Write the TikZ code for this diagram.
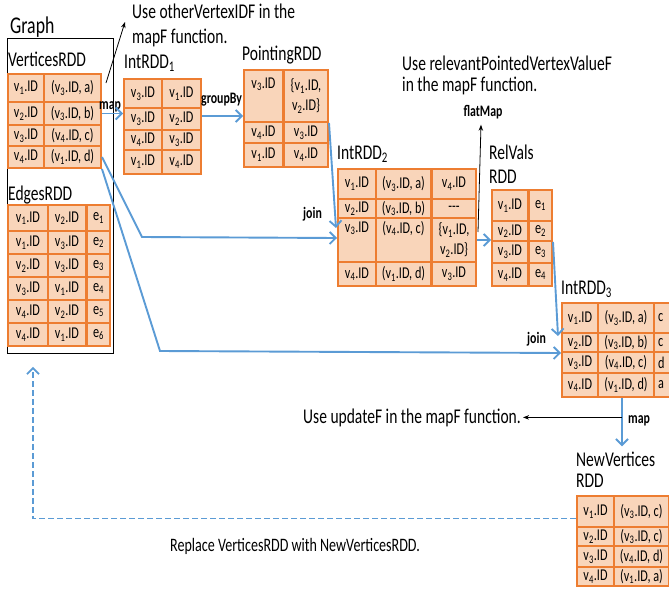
\documentclass[tikz,border=0pt]{standalone}
\usepackage{fontspec}
\setmainfont{Carlito}[FakeStretch=0.74]
\usetikzlibrary{arrows.meta}

\definecolor{rddOrange}{HTML}{ED7D31}
\definecolor{rddFill}{HTML}{F9D5BA}
\definecolor{flowBlue}{HTML}{5B9BD5}

% vertex id with subscript
\newcommand{\vid}[1]{v\textsubscript{#1}.ID}

\begin{document}
\begin{tikzpicture}
[x=1pt,y=-1pt,
 cellDecorate/.style={shape=rectangle,draw=rddOrange,fill=rddFill,line width=2pt,inner sep=0pt,anchor=north west,align=center,font=\fontsize{16.5}{20}\selectfont},
 titleDecorate/.style={inner sep=0pt,anchor=base west,align=left,font=\fontsize{21}{22}\selectfont},
 noteDecorate/.style={inner sep=0pt,anchor=base west,align=left,font=\fontsize{21}{24}\selectfont},
 opDecorate/.style={inner sep=0pt,anchor=base west,font=\bfseries\fontsize{16}{18}\selectfont},
 flowDecorate/.style={draw=flowBlue,line width=1.9pt,-{Straight Barb[length=6pt,width=12pt]}},
 noteLine/.style={draw=black,line width=0.8pt,-{Stealth[length=6pt,width=4.5pt]}}]
\useasboundingbox (0,0) rectangle (669,597);

%% the graph with its two RDDs
\node (graphBox) at (7,38) [draw,line width=0.8pt,anchor=north west,minimum width=106pt,minimum height=315pt] {};
\node (graphTitle) at (10,33) [titleDecorate,font=\fontsize{24}{26}\selectfont] {Graph};
\node (vrTitle) at (8,66) [titleDecorate] {VerticesRDD};
\foreach \r/\y/\h/\b in {1/73/28/{(\vid{3}, a)},2/101/23/{(\vid{3}, b)},3/124/21/{(\vid{4}, c)},4/145/22/{(\vid{1}, d)}}{
  \node (vr\r1) at (7,\y) [cellDecorate,minimum width=36pt,minimum height=\h pt] {\vid{\r}};
  \node (vr\r2) at (43,\y) [cellDecorate,minimum width=57pt,minimum height=\h pt] {\b};
}
\node (erTitle) at (8,200) [titleDecorate] {EdgesRDD};
\foreach \r/\y/\h/\a/\b in {1/204/26/1/2,2/230/23/1/3,3/253/23/2/3,4/276/23/3/1,5/299/23/4/2,6/322/23/4/1}{
  \node (er\r1) at (7,\y) [cellDecorate,minimum width=40pt,minimum height=\h pt] {\vid{\a}};
  \node (er\r2) at (47,\y) [cellDecorate,minimum width=38pt,minimum height=\h pt] {\vid{\b}};
  \node (er\r3) at (86,\y) [cellDecorate,minimum width=23pt,minimum height=\h pt] {e\textsubscript{\r}};
}

%% IntRDD1
\node (iaTitle) at (124,68) [titleDecorate] {IntRDD\textsubscript{1}};
\foreach \r/\y/\h/\a/\b in {1/78/29/3/1,2/107/22/3/2,3/129/20/4/3,4/149/24/1/4}{
  \node (ia\r1) at (123,\y) [cellDecorate,minimum width=38pt,minimum height=\h pt] {\vid{\a}};
  \node (ia\r2) at (161,\y) [cellDecorate,minimum width=39pt,minimum height=\h pt] {\vid{\b}};
}

%% PointingRDD
\node (prTitle) at (242,60) [titleDecorate] {PointingRDD};
\foreach \r/\y/\h/\a/\b in {1/69/52/{\vid{3}\\ \strut}/{\{\vid{1},\\ \vid{2}\}},2/121/21/{\vid{4}}/{\vid{3}},3/142/24/{\vid{1}}/{\vid{4}}}{
  \node (pr\r1) at (243,\y) [cellDecorate,minimum width=39pt,minimum height=\h pt] {\a};
  \node (pr\r2) at (283,\y) [cellDecorate,minimum width=44pt,minimum height=\h pt] {\b};
}

%% IntRDD2
\node (ibTitle) at (337,159) [titleDecorate] {IntRDD\textsubscript{2}};
\foreach \r/\y/\h/\a/\b/\c in {1/168/30/{\vid{1}}/{(\vid{3}, a)}/{\vid{4}},
    2/198/19/{\vid{2}}/{(\vid{3}, b)}/{-{}-{}-},
    3/217/44/{\vid{3}\\ \strut}/{(\vid{4}, c)\\ \strut}/{\{\vid{1},\\ \vid{2}\}},
    4/261/24/{\vid{4}}/{(\vid{1}, d)}/{\vid{3}}}{
  \node (ib\r1) at (337,\y) [cellDecorate,minimum width=38pt,minimum height=\h pt] {\a};
  \node (ib\r2) at (375,\y) [cellDecorate,minimum width=55pt,minimum height=\h pt] {\b};
  \node (ib\r3) at (431,\y) [cellDecorate,minimum width=44pt,minimum height=\h pt] {\c};
}

%% RelValsRDD
\node (rvTitle) at (489,183) [titleDecorate,font=\fontsize{21}{24}\selectfont] {RelVals\\RDD};
\foreach \r/\y/\h in {1/189/31,2/220/20,3/240/22,4/262/23}{
  \node (rv\r1) at (491,\y) [cellDecorate,minimum width=36pt,minimum height=\h pt] {\vid{\r}};
  \node (rv\r2) at (528,\y) [cellDecorate,minimum width=23pt,minimum height=\h pt] {e\textsubscript{\r}};
}

%% IntRDD3
\node (icTitle) at (561,294) [titleDecorate] {IntRDD\textsubscript{3}};
\foreach \r/\y/\h/\b/\c in {1/302/30/{(\vid{3}, a)}/c,2/332/19/{(\vid{3}, b)}/c,3/351/21/{(\vid{4}, c)}/d,4/372/24/{(\vid{1}, d)}/a}{
  \node (ic\r1) at (561,\y) [cellDecorate,minimum width=36pt,minimum height=\h pt] {\vid{\r}};
  \node (ic\r2) at (597,\y) [cellDecorate,minimum width=56pt,minimum height=\h pt] {\b};
  \node (ic\r3) at (653,\y) [cellDecorate,minimum width=25pt,minimum height=\h pt,text width=17pt,align=left] {\c};
}

%% NewVerticesRDD
\node (nvTitle) at (576,487) [titleDecorate,font=\fontsize{21}{21}\selectfont] {NewVertices\\RDD};
\foreach \r/\y/\h/\b in {1/495/31/{(\vid{3}, c)},2/526/19/{(\vid{3}, c)},3/545/21/{(\vid{4}, d)},4/566/19/{(\vid{1}, a)}}{
  \node (nv\r1) at (576,\y) [cellDecorate,minimum width=37pt,minimum height=\h pt] {\vid{\r}};
  \node (nv\r2) at (613,\y) [cellDecorate,minimum width=55pt,minimum height=\h pt] {\b};
}

%% notes and operation names
\node (noteOther) at (132,43) [noteDecorate,font=\fontsize{21}{25}\selectfont] {Use otherVertexIDF in the\\mapF function.};
\node (noteRelevant) at (402,91) [noteDecorate,font=\fontsize{21}{21}\selectfont] {Use relevantPointedVertexValueF\\in the mapF function.};
\node (noteUpdate) at (303,423) [noteDecorate] {Use updateF in the mapF function.};
\node (noteReplace) at (170,551) [noteDecorate,font=\fontsize{19}{22}\selectfont] {Replace VerticesRDD with NewVerticesRDD.};
\node (mapOpA) at (99,109) [opDecorate] {map};
\node (groupByOp) at (201,103) [opDecorate] {groupBy};
\node (joinOpA) at (303,218) [opDecorate] {join};
\node (flatMapOp) at (483,116) [opDecorate,anchor=base] {flatMap};
\node (joinOpB) at (527,343) [opDecorate] {join};
\node (mapOpB) at (628,423) [opDecorate] {map};

\coordinate (otherTail) at (106,83);
\coordinate (otherTip) at (125,22);
\coordinate (flatTail) at (478,232);
\coordinate (replaceStart) at ([yshift=-7pt]nv11.west);
\coordinate (replaceTip) at ([xshift=26pt,yshift=-13pt]graphBox.south west);

%% blue data flow
\draw[flowDecorate] (vr22.east) -- (vr22.east -| ia21.west);
\draw[flowDecorate] ([yshift=3pt]ia22.east) -- ([yshift=3pt]ia22.east -| pr21.west);
\draw[flowDecorate] (pr12.south east) -- ([xshift=-1pt,yshift=-11pt]ib31.north west);
\draw[flowDecorate] (vr42.east) -- (142,237) -- ([yshift=2pt]ib31.west);
\draw[flowDecorate] (vr42.south east) -- (160,351) -- (ic21.south west);
\draw[flowDecorate] (ib33.east) -- (ib33.east -| rv31.west);
\draw[flowDecorate] (rv22.south east) -- ([xshift=-3pt,yshift=-4pt]ic21.north west);
\draw[flowDecorate] ([xshift=-4pt]ic42.south) -- ([xshift=-4pt,yshift=5pt]ic42.south |- nvTitle.north);
\draw[flowDecorate,dash pattern=on 6pt off 3pt] (replaceStart) -- (replaceStart -| replaceTip) -- (replaceTip);

%% black note pointers
\draw[noteLine] (otherTail) -- (otherTip);
\draw[noteLine] (flatTail) -- ([xshift=-2pt,yshift=-6pt]flatMapOp.south);
\draw[noteLine] ([xshift=-4pt]noteUpdate.east -| ic42.south) -- ([xshift=2pt]noteUpdate.east);
\end{tikzpicture}
\end{document}
